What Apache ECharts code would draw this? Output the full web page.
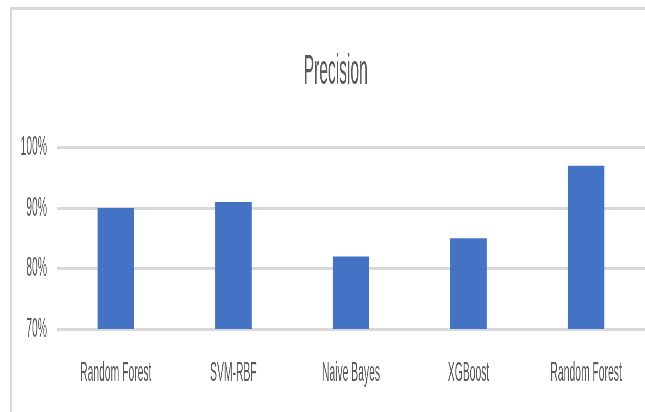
<!DOCTYPE html>
<html>
<head>
<meta charset="utf-8">
<script src="https://cdn.jsdelivr.net/npm/echarts@6/dist/echarts.min.js"></script>
<style>
  html, body { margin: 0; padding: 0; background: #ffffff; overflow: hidden; }
  #frame { position: absolute; left: 10px; top: 7px; width: 640px; height: 410px;
           border-top: 3px solid #d9d9d9; border-left: 2px solid #d9d9d9; box-sizing: border-box; }
  #chart { position: absolute; left: 0; top: 0; width: 1743px; height: 412px;
           transform: scaleX(0.37); transform-origin: 0 0; }
</style>
</head>
<body>
<div id="frame"></div>
<div id="chart"></div>
<script>
const titleText = 'Precision';
const categories = ['Random Forest', 'SVM-RBF', 'Naive Bayes', 'XGBoost', 'Random Forest'];
const precisionValues = [90, 91, 82, 85, 97];
const yTicks = [70, 80, 90, 100];

const chart = echarts.init(document.getElementById('chart'), null, { renderer: 'canvas' });
const font = 'Liberation Sans, Arial, sans-serif';
chart.setOption({
  animation: false,
  backgroundColor: 'transparent',
  title: {
    text: titleText,
    left: 821,
    top: 51,
    padding: 0,
    textStyle: { fontFamily: font, fontSize: 42, fontWeight: 'normal', color: '#595959' }
  },
  grid: { left: 154, right: 0, top: 147.5, bottom: 83, containLabel: false },
  xAxis: {
    type: 'category',
    data: categories,
    axisLine: { show: false },
    axisTick: { show: false },
    axisLabel: { fontFamily: font, fontSize: 28, color: '#595959', margin: 30, interval: 0 }
  },
  yAxis: {
    type: 'value',
    min: yTicks[0],
    max: yTicks[yTicks.length - 1],
    interval: 10,
    axisLine: { show: false },
    axisTick: { show: false },
    axisLabel: { fontFamily: font, fontSize: 28, color: '#595959', margin: 27,
                 formatter: v => v + '%' },
    splitLine: { lineStyle: { color: '#d9d9d9', width: 3 } }
  },
  series: [{
    type: 'bar',
    data: precisionValues,
    barWidth: '31%',
    itemStyle: { color: '#4472c4' }
  }]
});
</script>
</body>
</html>
